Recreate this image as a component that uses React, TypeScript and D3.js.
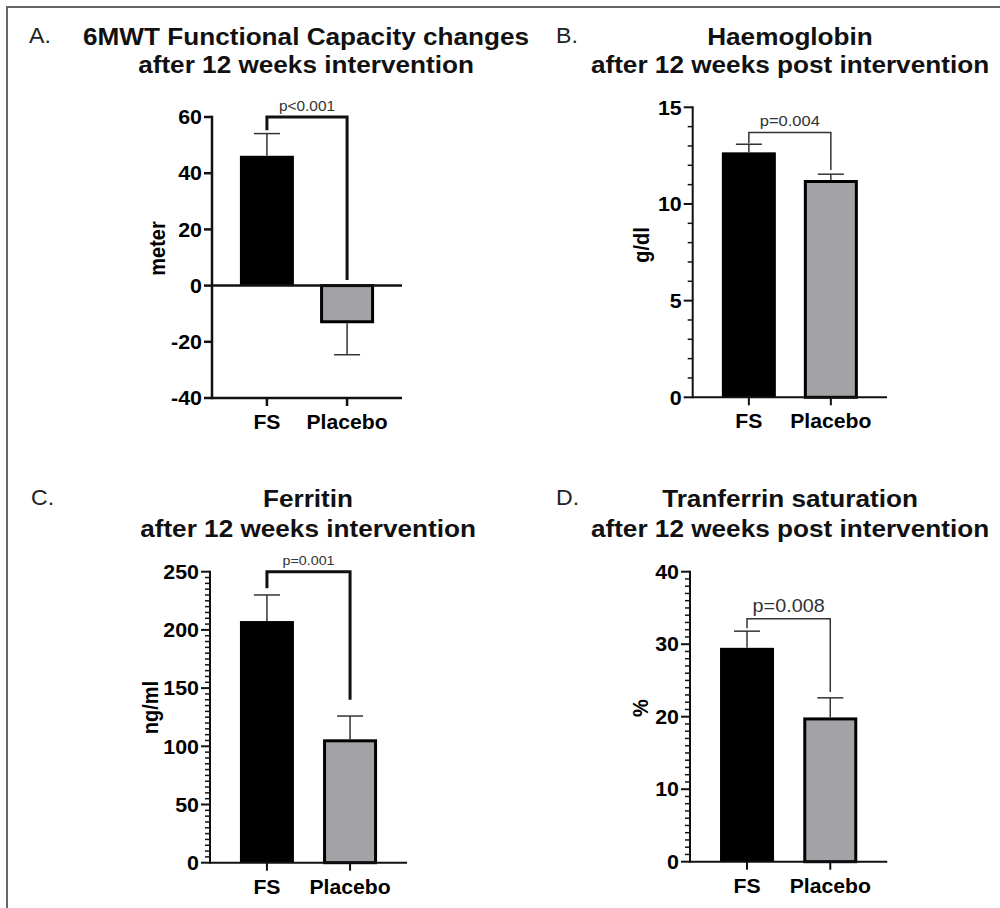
import React from 'react';
import * as d3 from 'd3';

// groups on the x axis, same for every panel
const groups = ['FS', 'Placebo'];

const panelLetters = ['A.', 'B.', 'C.', 'D.'];
const titleLine1 = ['6MWT Functional Capacity changes', 'Haemoglobin', 'Ferritin', 'Tranferrin saturation'];
const titleLine2 = [
  'after 12 weeks intervention',
  'after 12 weeks post intervention',
  'after 12 weeks intervention',
  'after 12 weeks post intervention',
];
const yLabels = ['meter', 'g/dl', 'ng/ml', '%'];

// mean and SEM per group (FS, Placebo)
const meanValues = [[46.2, -13.4], [12.67, 11.24], [207.6, 106], [29.5, 19.9]];
const semValues = [[7.9, 11.2], [0.42, 0.3], [22.4, 20], [2.3, 2.7]];

const yDomains = [[-40, 60], [0, 15], [0, 250], [0, 40]];
const majorTicks = [
  [-40, -20, 0, 20, 40, 60],
  [0, 5, 10, 15],
  [0, 50, 100, 150, 200, 250],
  [0, 10, 20, 30, 40],
];
const minorStep = [0, 1, 5, 1];

// significance brackets
const pLabels = ['p<0.001', 'p=0.004', 'p=0.001', 'p=0.008'];
const bracketTop = [60, 13.7, 250, 33.5];
const bracketLeftEnd = [55.3, 13.14, 235.7, 32.2];
const bracketRightEnd = [2, 11.76, 140, 23.4];

// pixel layout of each panel
const layout = [
  { axisX: 212, axisEnd: 402, yTop: 117, yBottom: 398, titleX: 306, t1: 45, t2: 72.5, letterX: 29, letterY: 43, labX: 157, labY: 248.5, pFont: 14, axisW: 2.5, brW: 3, brColor: '#111', tick: 8 },
  { axisX: 692.7, axisEnd: 887, yTop: 107.3, yBottom: 397.3, titleX: 790, t1: 45, t2: 72.5, letterX: 556, letterY: 43, labX: 641.7, labY: 245, pFont: 15, axisW: 2, brW: 1.5, brColor: '#333', tick: 9 },
  { axisX: 210, axisEnd: 407, yTop: 571.7, yBottom: 862.7, titleX: 308, t1: 506.7, t2: 536.7, letterX: 31, letterY: 505, labX: 150, labY: 707.5, pFont: 13, axisW: 2, brW: 3, brColor: '#111', tick: 9 },
  { axisX: 690, axisEnd: 887.3, yTop: 571.7, yBottom: 861.7, titleX: 790, t1: 506.7, t2: 536.7, letterX: 556, letterY: 505, labX: 640, labY: 708, pFont: 18, axisW: 2, brW: 1.5, brColor: '#333', tick: 9 },
];

const FONT = '"Liberation Sans", Arial, Helvetica, sans-serif';
const BAR_W = 54;
const CAP_W = 26;
const barFill = ['#000000', '#a3a3a7'];

// text is a little wider than Arial in the reference, so stretch it a bit
function Txt(props: any) {
  const { x, y, size, bold, anchor = 'middle', fill = '#000', rotate, children, dy, sx = 1.1 } = props;
  let tr = `translate(${x},${y}) scale(${sx},1)`;
  if (rotate) tr += ` rotate(${rotate})`;
  return (
    <text
      transform={tr}
      fontFamily={FONT}
      fontSize={size}
      fontWeight={bold ? 'bold' : 'normal'}
      textAnchor={anchor}
      fill={fill}
      dy={dy}
    >
      {children}
    </text>
  );
}

function Panel({ i }: { i: number }) {
  const L = layout[i];
  const y = d3.scaleLinear().domain(yDomains[i]).range([L.yBottom, L.yTop]);
  const x = d3.scaleBand().domain(groups).range([L.axisX, L.axisEnd]).paddingInner(0.33).paddingOuter(0.35);
  const cx = (g: string) => (x(g) as number) + x.bandwidth() / 2;

  const minors: number[] = [];
  if (minorStep[i]) {
    const [lo, hi] = yDomains[i];
    for (let v = lo; v <= hi + 1e-9; v += minorStep[i]) {
      if (!majorTicks[i].includes(v)) minors.push(v);
    }
  }

  const baseY = y(yDomains[i][0]);
  const zeroY = y(0);
  const xl = cx(groups[0]);
  const xr = cx(groups[1]);

  return (
    <g>
      {/* bars */}
      {groups.map((g, j) => {
        const v = meanValues[i][j];
        const top = Math.min(y(v), zeroY);
        const h = Math.abs(y(v) - zeroY);
        const c = cx(g);
        const sw = j === 1 ? 3 : 0;
        return (
          <rect
            key={g}
            x={c - BAR_W / 2 + sw / 2}
            y={top + (v < 0 ? 0 : sw / 2)}
            width={BAR_W - sw}
            height={h - sw / 2}
            fill={barFill[j]}
            stroke={j === 1 ? '#000' : 'none'}
            strokeWidth={sw}
          />
        );
      })}
      {/* error bars */}
      {groups.map((g, j) => {
        const v = meanValues[i][j];
        const e = v >= 0 ? v + semValues[i][j] : v - semValues[i][j];
        const c = cx(g);
        return (
          <g key={'e' + g} stroke="#333" strokeWidth={1.5}>
            <line x1={c} x2={c} y1={y(v)} y2={y(e)} />
            <line x1={c - CAP_W / 2} x2={c + CAP_W / 2} y1={y(e)} y2={y(e)} />
          </g>
        );
      })}
      {/* y axis */}
      <line x1={L.axisX} x2={L.axisX} y1={L.yTop - L.axisW / 2} y2={baseY + L.axisW / 2} stroke="#111" strokeWidth={L.axisW} />
      {majorTicks[i].map((t) => (
        <g key={'t' + t}>
          <line x1={L.axisX - L.tick} x2={L.axisX} y1={y(t)} y2={y(t)} stroke="#111" strokeWidth={L.axisW} />
          <Txt x={L.axisX - L.tick - 2} y={y(t)} size={20} sx={1.07} bold anchor="end" dy="0.36em">
            {t}
          </Txt>
        </g>
      ))}
      {minors.map((t) => (
        <line key={'m' + t} x1={L.axisX - 5} x2={L.axisX} y1={y(t)} y2={y(t)} stroke="#111" strokeWidth={1.5} />
      ))}
      {/* x axis */}
      <line x1={L.axisX} x2={L.axisEnd} y1={baseY} y2={baseY} stroke="#111" strokeWidth={L.axisW} />
      {yDomains[i][0] < 0 && (
        <line x1={L.axisX} x2={L.axisEnd} y1={zeroY} y2={zeroY} stroke="#111" strokeWidth={L.axisW} />
      )}
      {groups.map((g) => (
        <g key={'x' + g}>
          <line x1={cx(g)} x2={cx(g)} y1={baseY} y2={baseY + 8} stroke="#111" strokeWidth={L.axisW} />
          <Txt x={cx(g)} y={baseY + 31} size={20} sx={1.06} bold>
            {g}
          </Txt>
        </g>
      ))}
      {/* y label */}
      <Txt x={L.labX} y={L.labY} size={20} bold rotate={-90} dy="0.35em">
        {yLabels[i]}
      </Txt>
      {/* significance bracket */}
      <path
        d={`M${xl},${y(bracketLeftEnd[i])}V${y(bracketTop[i])}H${xr}V${y(bracketRightEnd[i])}`}
        fill="none"
        stroke={L.brColor}
        strokeWidth={L.brW}
      />
      <Txt x={(xl + xr) / 2} y={y(bracketTop[i]) - 6.5} size={L.pFont} fill="#333">
        {pLabels[i]}
      </Txt>
      {/* titles */}
      <Txt x={L.titleX} y={L.t1} size={24} sx={1.09} bold fill="#111">
        {titleLine1[i]}
      </Txt>
      <Txt x={L.titleX} y={L.t2} size={24} sx={1.09} bold fill="#111">
        {titleLine2[i]}
      </Txt>
      <Txt x={L.letterX} y={L.letterY} size={22} sx={1.05} anchor="start" fill="#222">
        {panelLetters[i]}
      </Txt>
    </g>
  );
}

export default function App() {
  return (
    <svg
      width={1000}
      height={908}
      style={{ position: 'absolute', left: 0, top: 0, background: '#fff' }}
    >
      <rect x={0} y={0} width={1000} height={908} fill="#fff" />
      <path d="M7,908V7H1000" fill="none" stroke="#666" strokeWidth={2} />
      {panelLetters.map((_, i) => (
        <Panel key={i} i={i} />
      ))}
    </svg>
  );
}
